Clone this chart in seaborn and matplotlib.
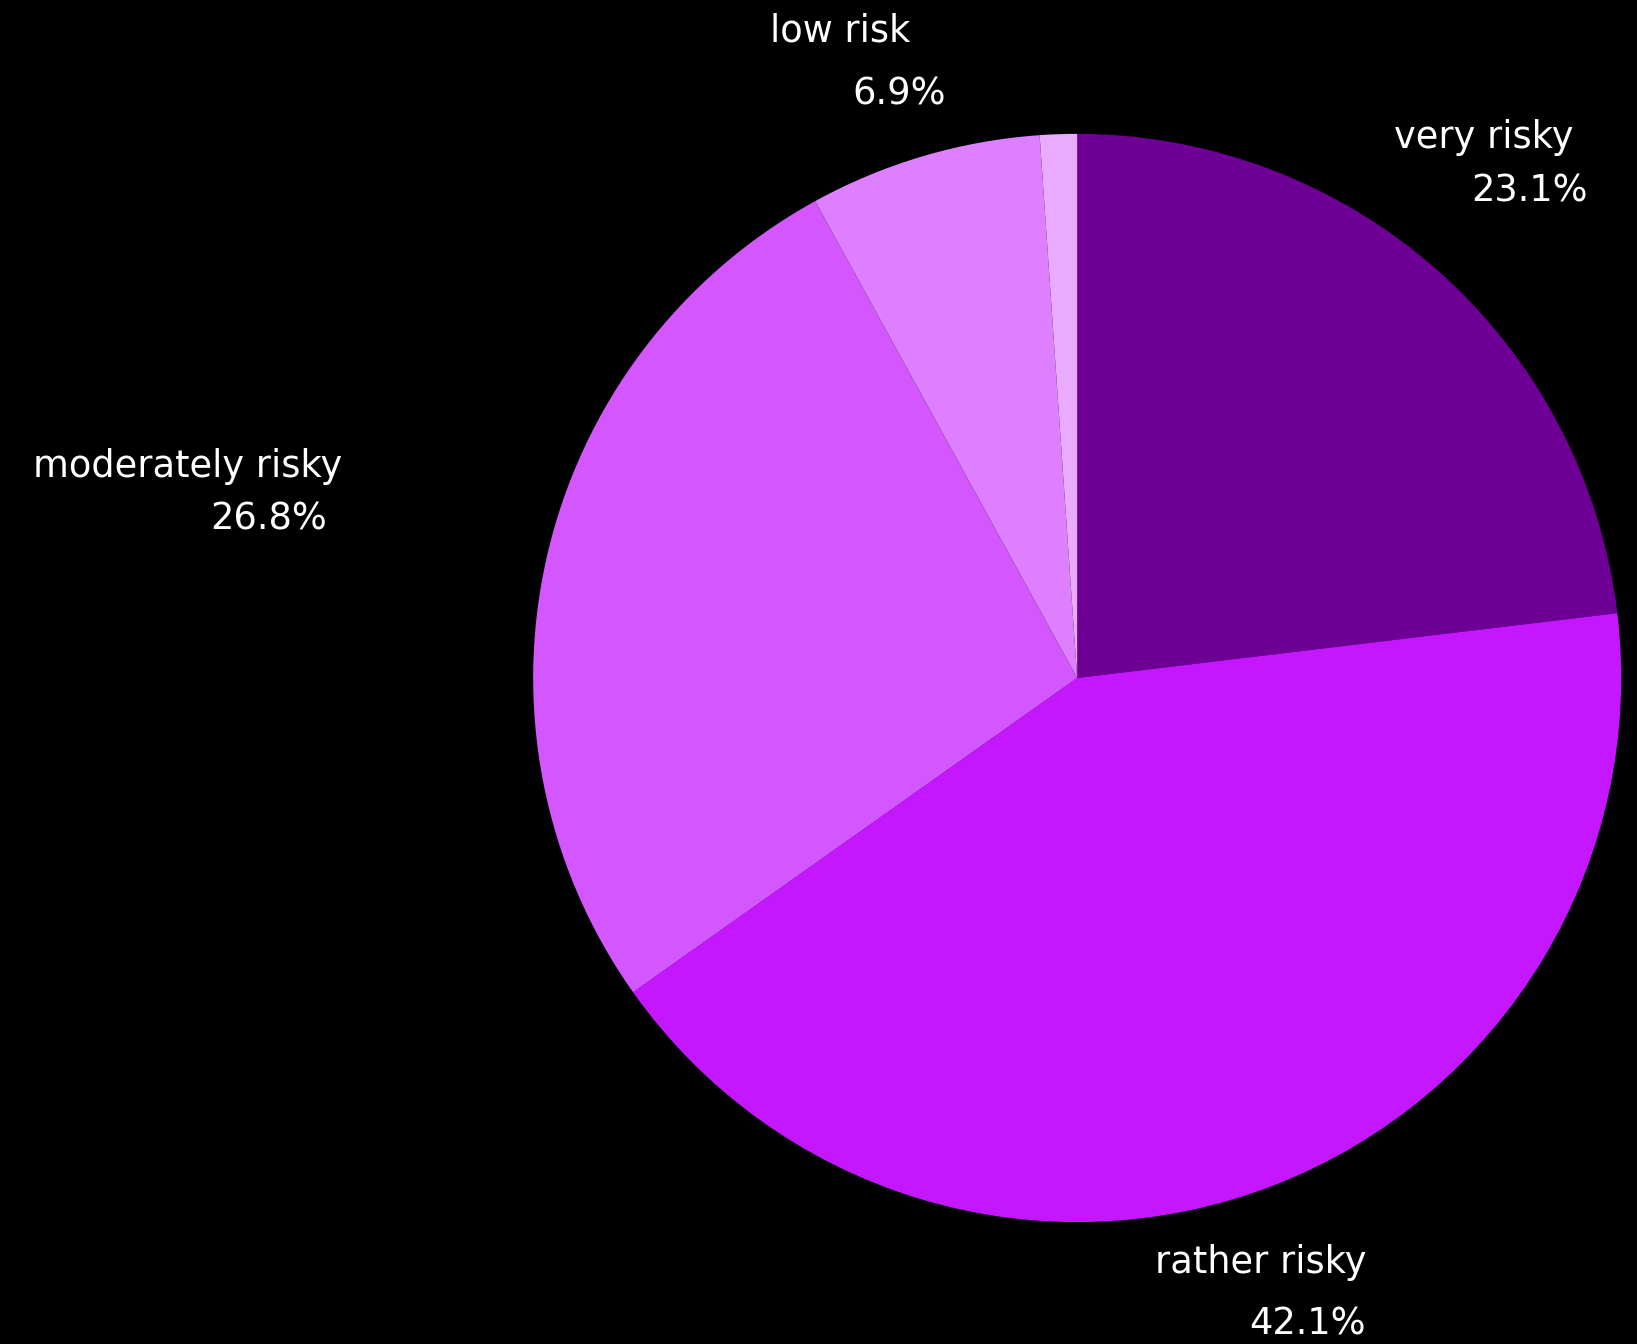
import seaborn as sns
import matplotlib
import matplotlib.pyplot as plt

sns.set_style("dark")
plt.rcParams["font.family"] = ["DejaVu Sans"]

# data (clockwise from 12 o'clock)
categories = ["very risky", "rather risky", "moderately risky", "low risk", ""]
shares = [23.1, 42.1, 26.8, 6.9, 1.1]
colors = ["#6e0096", "#c417ff", "#d456ff", "#dd7fff", "#e9aaff"]

# label anchor points (pie radius = 1), name line and percent line
name_pos = [(0.912, 0.993), (0.531, -1.075), (-1.351, 0.388), (-0.307, 1.189)]
pct_pos = [(0.939, 0.895), (0.531, -1.188), (-1.379, 0.292), (-0.241, 1.074)]

FONTSIZE = 26.5

fig = plt.figure(figsize=(16.37, 13.44), dpi=100, facecolor="black")
ax = fig.add_axes([0, 0, 1, 1])
ax.set_facecolor("black")

wedges, _ = ax.pie(
    shares,
    colors=colors,
    startangle=90,
    counterclock=False,
    radius=1,
    wedgeprops=dict(edgecolor="none", linewidth=0),
)

for name, share, (nx, ny), (px, py) in zip(categories, shares, name_pos, pct_pos):
    ax.text(nx, ny, name, color="white", fontsize=FONTSIZE, ha="right", va="center")
    ax.text(px, py, f"{share:.1f}%", color="white", fontsize=FONTSIZE, ha="right", va="center")

ax.set_xlim(-1.980, 1.029)
ax.set_ylim(-1.224, 1.246)
ax.set_aspect("auto")
ax.axis("off")

fig.savefig("out.png", dpi=100, facecolor="black")
